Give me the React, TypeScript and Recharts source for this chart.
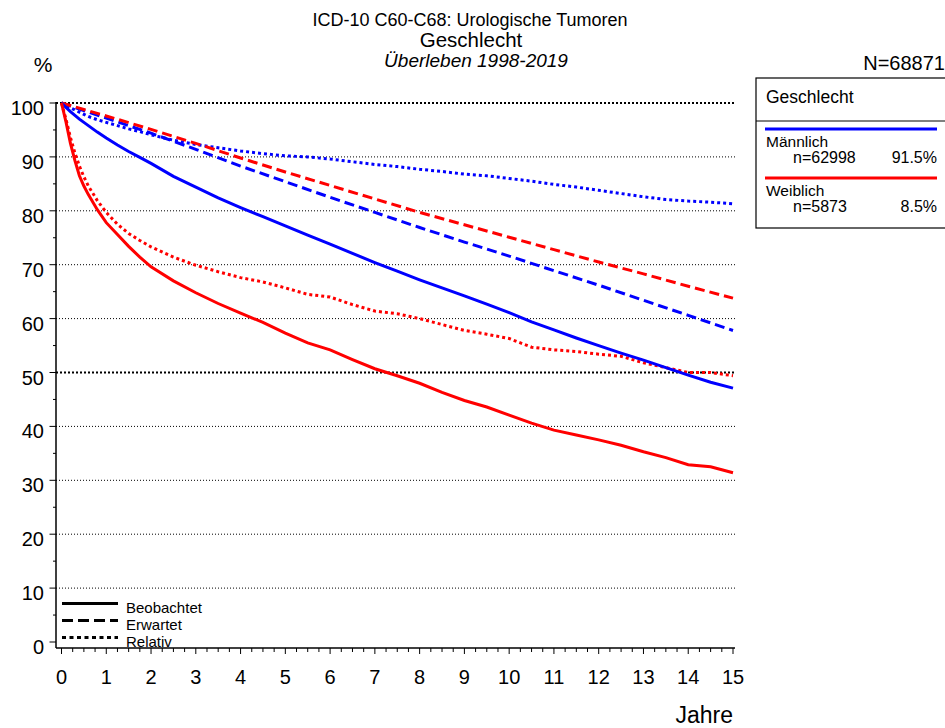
import React from 'react';
import { LineChart, Line, XAxis, YAxis, ReferenceLine } from 'recharts';

const FONT = '"Liberation Sans", Arial, Helvetica, sans-serif';

// time points (years)
const TIME_FINE = [0, 0.1, 0.2, 0.3, 0.4, 0.5, 0.6, 0.8, 1, 1.25, 1.5, 1.75, 2, 2.5, 3, 3.5, 4, 4.5, 5, 5.5, 6, 6.5, 7, 7.5, 8, 8.5, 9, 9.5, 10, 10.5, 11, 11.5, 12, 12.5, 13, 13.5, 14, 14.5, 15];
const TIME_YEARS = [0, 1, 2, 3, 4, 5, 6, 7, 8, 9, 10, 11, 12, 13, 14, 15];

// Männlich (blue)
const MALE_OBS = [100, 99.2, 98.4, 97.7, 97.0, 96.4, 95.8, 94.6, 93.5, 92.2, 91.0, 89.9, 88.8, 86.4, 84.4, 82.4, 80.6, 78.9, 77.2, 75.5, 73.8, 72.1, 70.4, 68.8, 67.2, 65.7, 64.2, 62.7, 61.1, 59.4, 57.9, 56.4, 55.0, 53.6, 52.3, 50.9, 49.5, 48.2, 47.1];
const MALE_REL = [100, 99.5, 99.1, 98.7, 98.3, 97.9, 97.5, 96.9, 96.4, 95.8, 95.2, 94.7, 94.1, 93.1, 92.3, 91.7, 91.1, 90.6, 90.2, 90.0, 89.6, 89.1, 88.6, 88.2, 87.7, 87.3, 86.8, 86.5, 86.0, 85.5, 84.9, 84.4, 83.8, 83.2, 82.6, 82.1, 81.8, 81.6, 81.3];
const MALE_EXP = [100, 97.2, 94.4, 91.4, 88.3, 85.4, 82.5, 79.7, 76.9, 74.2, 71.6, 68.9, 66.2, 63.4, 60.6, 57.8];

// Weiblich (red)
const FEMALE_OBS = [100, 96.5, 92.5, 89.3, 86.5, 84.6, 83.0, 80.2, 77.8, 75.6, 73.4, 71.4, 69.6, 67.0, 64.8, 62.8, 61.0, 59.3, 57.3, 55.5, 54.2, 52.4, 50.7, 49.4, 48.0, 46.3, 44.8, 43.6, 42.1, 40.6, 39.3, 38.4, 37.5, 36.5, 35.3, 34.2, 32.9, 32.5, 31.4];
const FEMALE_REL = [100, 97, 93.6, 90.7, 88.3, 86.3, 84.6, 81.9, 79.7, 77.5, 75.8, 74.5, 73.3, 71.4, 69.9, 68.7, 67.6, 66.8, 65.7, 64.5, 64.0, 62.6, 61.4, 60.9, 60.0, 58.9, 57.8, 57.1, 56.3, 54.7, 54.2, 53.9, 53.4, 53.0, 51.8, 50.9, 50.0, 50.0, 49.4];
const FEMALE_EXP = [100, 97.6, 95.1, 92.5, 89.8, 87.2, 84.7, 82.2, 79.7, 77.4, 75.1, 72.8, 70.5, 68.3, 66.0, 63.8];

const X_MAJOR = [0, 1, 2, 3, 4, 5, 6, 7, 8, 9, 10, 11, 12, 13, 14, 15];
const X_TICKS = X_MAJOR.flatMap((v) => (v < 15 ? [v, v + 0.25, v + 0.5, v + 0.75] : [v]));
const Y_MAJOR = [0, 10, 20, 30, 40, 50, 60, 70, 80, 90, 100];
const Y_TICKS = Y_MAJOR.flatMap((v) => (v < 100 ? [v, v + 5] : [v]));
const GRID_LINES = [10, 20, 30, 40, 50, 60, 70, 80, 90, 100];
const BOLD_GRID = [50, 100];

const TITLE_1 = 'ICD-10 C60-C68: Urologische Tumoren';
const TITLE_2 = 'Geschlecht';
const TITLE_3 = 'Überleben 1998-2019';
const N_TOTAL = 'N=68871';
const GROUPS = [
  { name: 'Männlich', n: 'n=62998', pct: '91.5%', color: '#0000ff' },
  { name: 'Weiblich', n: 'n=5873', pct: '8.5%', color: '#ff0000' },
];
const STYLE_LEGEND = [
  { label: 'Beobachtet', dash: undefined as string | undefined },
  { label: 'Erwartet', dash: '11 5' },
  { label: 'Relativ', dash: '4 3.5' },
];

const toPts = (ts: number[], vs: number[]) => ts.map((t, i) => ({ t, v: vs[i] }));

const SERIES = [
  { key: 'mrel', data: toPts(TIME_FINE, MALE_REL), color: '#0000ff', dash: '3 3' },
  { key: 'frel', data: toPts(TIME_FINE, FEMALE_REL), color: '#ff0000', dash: '3 3' },
  { key: 'mexp', data: toPts(TIME_YEARS, MALE_EXP), color: '#0000ff', dash: '10 5' },
  { key: 'fexp', data: toPts(TIME_YEARS, FEMALE_EXP), color: '#ff0000', dash: '10 5' },
  { key: 'mobs', data: toPts(TIME_FINE, MALE_OBS), color: '#0000ff', dash: undefined as string | undefined },
  { key: 'fobs', data: toPts(TIME_FINE, FEMALE_OBS), color: '#ff0000', dash: undefined as string | undefined },
];

function YTick(props: any) {
  const { x, y, payload } = props;
  const v = payload.value;
  const major = v % 10 === 0;
  return (
    <g>
      <line x1={x} x2={x - (major ? 6.5 : 3)} y1={y} y2={y} stroke="#000" strokeWidth={1} />
      {major && (
        <text x={x - 12} y={y + 12} textAnchor="end" fontSize={20} fontFamily={FONT} fill="#000">
          {v}
        </text>
      )}
    </g>
  );
}

function XTick(props: any) {
  const { x, y, payload } = props;
  const v = payload.value;
  const major = Number.isInteger(v);
  return (
    <g>
      <line x1={x} x2={x} y1={y} y2={y + (major ? 6 : 4)} stroke="#000" strokeWidth={1} />
      {major && (
        <text x={x} y={y + 36} textAnchor="middle" fontSize={20} fontFamily={FONT} fill="#000">
          {v}
        </text>
      )}
    </g>
  );
}

export default function App() {
  return (
    <div style={{ position: 'absolute', left: 0, top: 0, width: 945, height: 728, background: '#fff', fontFamily: FONT }}>
      <LineChart width={945} height={728} margin={{ top: 102, right: 210, bottom: 0, left: 6 }}>
        <XAxis
          dataKey="t"
          type="number"
          domain={[0, 15]}
          ticks={X_TICKS}
          interval={0}
          tick={<XTick />}
          tickLine={false}
          tickSize={0}
          tickMargin={0}
          height={80}
          padding={{ left: 5.5, right: 2 }}
          axisLine={{ stroke: '#000', strokeWidth: 1.5 }}
          allowDuplicatedCategory={false}
        />
        <YAxis
          type="number"
          domain={[0, 100]}
          ticks={Y_TICKS}
          interval={0}
          tick={<YTick />}
          tickLine={false}
          tickSize={0}
          tickMargin={0}
          width={50}
          padding={{ top: 1, bottom: 6 }}
          axisLine={{ stroke: '#000', strokeWidth: 1.5 }}
        />
        {GRID_LINES.map((g) => (
          <ReferenceLine
            key={g}
            y={g}
            stroke="#000"
            strokeWidth={BOLD_GRID.includes(g) ? 2 : 1}
            strokeDasharray={BOLD_GRID.includes(g) ? '2 2' : '1 2'}
          />
        ))}
        {SERIES.map((s) => (
          <Line
            key={s.key}
            data={s.data}
            dataKey="v"
            type="linear"
            stroke={s.color}
            strokeWidth={3}
            strokeDasharray={s.dash}
            dot={false}
            activeDot={false}
            isAnimationActive={false}
          />
        ))}
      </LineChart>
      <svg
        width={945}
        height={728}
        style={{ position: 'absolute', left: 0, top: 0, pointerEvents: 'none' }}
        fontFamily={FONT}
      >
        <text x={470} y={25.5} textAnchor="middle" fontSize={18} fill="#000">{TITLE_1}</text>
        <text x={471} y={46.5} textAnchor="middle" fontSize={20.5} fill="#000">{TITLE_2}</text>
        <text x={476} y={66.5} textAnchor="middle" fontSize={19} fontStyle="italic" fill="#000">{TITLE_3}</text>
        <text x={43} y={72} textAnchor="middle" fontSize={21} fill="#000">%</text>
        <text x={945} y={70} textAnchor="end" fontSize={20} fill="#000">{N_TOTAL}</text>
        <text x={733} y={723} textAnchor="end" fontSize={23} fill="#000">Jahre</text>

        {/* group legend table */}
        <rect x={756} y={78} width={200} height={150} fill="none" stroke="#000" strokeWidth={1.2} />
        <line x1={756} x2={945} y1={121} y2={121} stroke="#000" strokeWidth={1} />
        <text x={766} y={103} fontSize={17.5} fill="#000">{TITLE_2}</text>
        {GROUPS.map((g, i) => {
          const y0 = 129 + i * 49;
          return (
            <g key={g.name}>
              <line x1={765} x2={937} y1={y0} y2={y0} stroke={g.color} strokeWidth={3} />
              <text x={766} y={y0 + 18} fontSize={15.5} fill="#000">{g.name}</text>
              <text x={793} y={y0 + 34} fontSize={16} fill="#000">{g.n}</text>
              <text x={937} y={y0 + 34} textAnchor="end" fontSize={16} fill="#000">{g.pct}</text>
            </g>
          );
        })}

        {/* line style legend */}
        {STYLE_LEGEND.map((s, i) => {
          const y0 = 603.5 + i * 17;
          return (
            <g key={s.label}>
              <line x1={62} x2={118} y1={y0} y2={y0} stroke="#000" strokeWidth={3} strokeDasharray={s.dash} />
              <text x={126} y={y0 + 9} fontSize={15} fill="#000">{s.label}</text>
            </g>
          );
        })}
      </svg>
    </div>
  );
}
